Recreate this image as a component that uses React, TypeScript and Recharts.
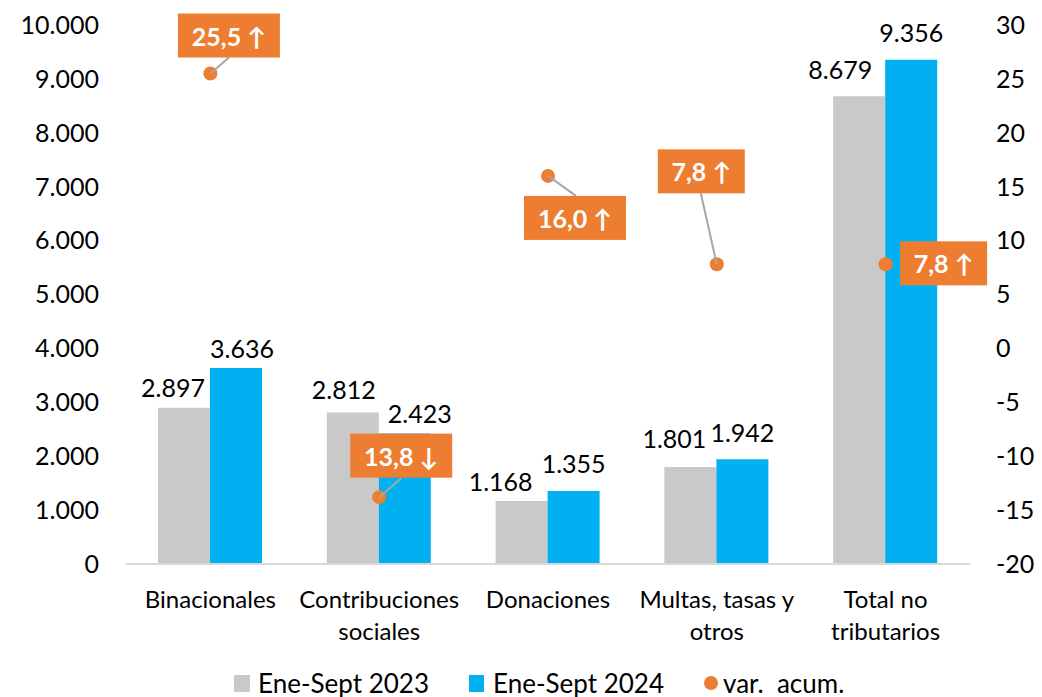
import React from 'react';
import { ComposedChart, Bar, Scatter, XAxis, YAxis, Legend, LabelList } from 'recharts';

// ---- data ----
const categories = [
  'Binacionales',
  'Contribuciones\nsociales',
  'Donaciones',
  'Multas, tasas y\notros',
  'Total no\ntributarios',
];
const values2023 = [2897, 2812, 1168, 1801, 8679];
const values2024 = [3636, 2423, 1355, 1942, 9356];
const varAcum = [25.5, -13.8, 16.0, 7.8, 7.8];
const leftTicks = [0, 1000, 2000, 3000, 4000, 5000, 6000, 7000, 8000, 9000, 10000];
const rightTicks = [-20, -15, -10, -5, 0, 5, 10, 15, 20, 25, 30];
const seriesNames = ['Ene-Sept 2023', 'Ene-Sept 2024', 'var.  acum.'];

const data = categories.map((name, i) => ({
  name,
  v2023: values2023[i],
  v2024: values2024[i],
  varAcum: varAcum[i],
}));

// ---- layout / style ----
const FONT = 'Lato, "Open Sans", "DejaVu Sans", sans-serif';
const GREY = '#C9C9C9';
const BLUE = '#00B0F0';
const ORANGE = '#ED7D31';
const W = 1034;
const H = 689;

const labelOffsets2023 = [[-11, -21], [-9, -23], [-21, -20], [-16, -29], [-19, -27]];
const labelOffsets2024 = [[6, -20], [15, -20], [0, -28], [0, -27], [0, -28]];
const varLabelLayout: { dx: number; dy: number; line?: [number, number] }[] = [
  { dx: 18.5, dy: -38, line: [18.5, -16] },
  { dx: 22, dy: -41.5, line: [22, -19] },
  { dx: 27, dy: 42, line: [28, 20] },
  { dx: -15.5, dy: -93, line: [-16, -71] },
  { dx: 58, dy: -1 },
];

const fmtThousands = (v: number) => String(v).replace(/\B(?=(\d{3})+(?!\d))/g, '.');

const makeBarLabel = (offsets: number[][]) => (props: any) => {
  const { x, y, width, value, index } = props;
  const o = offsets[index] || [0, -20];
  return (
    <text
      x={Number(x) + Number(width) / 2 + o[0]}
      y={Number(y) + o[1]}
      textAnchor="middle"
      dominantBaseline="central"
      fontSize={25}
      fontFamily={FONT}
      fill="#000"
    >
      {fmtThousands(Number(value))}
    </text>
  );
};

const CategoryTick = (props: any) => {
  const { x, y, payload } = props;
  const lines = String(payload.value).split('\n');
  return (
    <g>
      {lines.map((l, k) => (
        <text
          key={k}
          x={x}
          y={y + 34 + k * 32}
          textAnchor="middle"
          dominantBaseline="central"
          fontSize={24}
          fontFamily={FONT}
          fill="#000"
        >
          {l}
        </text>
      ))}
    </g>
  );
};

const VarShape = (props: any) => {
  const { cx, cy, payload } = props;
  const i = categories.indexOf(payload.name);
  const v = Number(payload.varAcum);
  const num = Math.abs(v).toFixed(1).replace('.', ',');
  const text = `${num} ${v >= 0 ? '↑' : '↓'}`;
  const o = varLabelLayout[i] || { dx: 0, dy: -40 };
  const w = 42 + 15 * num.length;
  const h = 44;
  return (
    <g>
      <circle cx={cx} cy={cy} r={7} fill={ORANGE} />
      {o.line && (
        <line
          x1={cx}
          y1={cy}
          x2={cx + o.line[0]}
          y2={cy + o.line[1]}
          stroke="#A6A6A6"
          strokeWidth={2}
        />
      )}
      <rect x={cx + o.dx - w / 2} y={cy + o.dy - h / 2} width={w} height={h} fill={ORANGE} />
      <text
        x={cx + o.dx}
        y={cy + o.dy}
        textAnchor="middle"
        dominantBaseline="central"
        fontSize={25}
        fontWeight="bold"
        fontFamily={FONT}
        fill="#FFFFFF"
      >
        {text}
      </text>
    </g>
  );
};

const LegendContent = () => {
  const textStyle: React.CSSProperties = {
    position: 'absolute',
    top: 29,
    transform: 'translateY(-50%)',
    fontSize: 26,
    fontFamily: FONT,
    color: '#000',
    whiteSpace: 'pre',
    lineHeight: 1,
  };
  return (
    <div style={{ position: 'relative', width: W, height: 43 }}>
      <div style={{ position: 'absolute', left: 226, top: 21, width: 16, height: 17, background: GREY }} />
      <div style={{ ...textStyle, left: 250 }}>{seriesNames[0]}</div>
      <div style={{ position: 'absolute', left: 461, top: 21, width: 15, height: 17, background: BLUE }} />
      <div style={{ ...textStyle, left: 485 }}>{seriesNames[1]}</div>
      <div
        style={{
          position: 'absolute',
          left: 696,
          top: 22,
          width: 14,
          height: 14,
          borderRadius: '50%',
          background: ORANGE,
        }}
      />
      <div style={{ ...textStyle, left: 715 }}>{seriesNames[2]}</div>
    </div>
  );
};

export default function App() {
  return (
    <div style={{ width: W, height: H, background: '#fff' }}>
      <ComposedChart
        width={W}
        height={H}
        data={data}
        margin={{ top: 17, right: 12, bottom: 0, left: 18 }}
        barGap={0}
        style={{ fontFamily: FONT }}
      >
        <XAxis
          dataKey="name"
          height={90}
          tickLine={false}
          tickSize={0}
          tickMargin={0}
          axisLine={{ stroke: '#D9D9D9', strokeWidth: 2 }}
          tick={<CategoryTick />}
          interval={0}
        />
        <YAxis
          yAxisId="left"
          orientation="left"
          width={100}
          domain={[0, 10000]}
          ticks={leftTicks}
          tickFormatter={fmtThousands}
          axisLine={false}
          tickLine={false}
          tickSize={0}
          tickMargin={27}
          interval={0}
          tick={{ fontSize: 25, fill: '#000', fontFamily: FONT }}
        />
        <YAxis
          yAxisId="right"
          orientation="right"
          width={60}
          domain={[-20, 30]}
          ticks={rightTicks}
          axisLine={false}
          tickLine={false}
          tickSize={0}
          tickMargin={26}
          interval={0}
          tick={{ fontSize: 25, fill: '#000', fontFamily: FONT, textAnchor: 'start' }}
        />
        <Legend
          verticalAlign="bottom"
          height={43}
          content={() => <LegendContent />}
          wrapperStyle={{ left: 0, width: W, height: 43, bottom: 0 }}
        />
        <Bar
          yAxisId="left"
          dataKey="v2023"
          name={seriesNames[0]}
          fill={GREY}
          barSize={52}
          isAnimationActive={false}
        >
          <LabelList dataKey="v2023" content={makeBarLabel(labelOffsets2023)} />
        </Bar>
        <Bar
          yAxisId="left"
          dataKey="v2024"
          name={seriesNames[1]}
          fill={BLUE}
          barSize={52}
          isAnimationActive={false}
        >
          <LabelList dataKey="v2024" content={makeBarLabel(labelOffsets2024)} />
        </Bar>
        <Scatter
          yAxisId="right"
          dataKey="varAcum"
          name={seriesNames[2]}
          fill={ORANGE}
          shape={<VarShape />}
          isAnimationActive={false}
        />
      </ComposedChart>
    </div>
  );
}
